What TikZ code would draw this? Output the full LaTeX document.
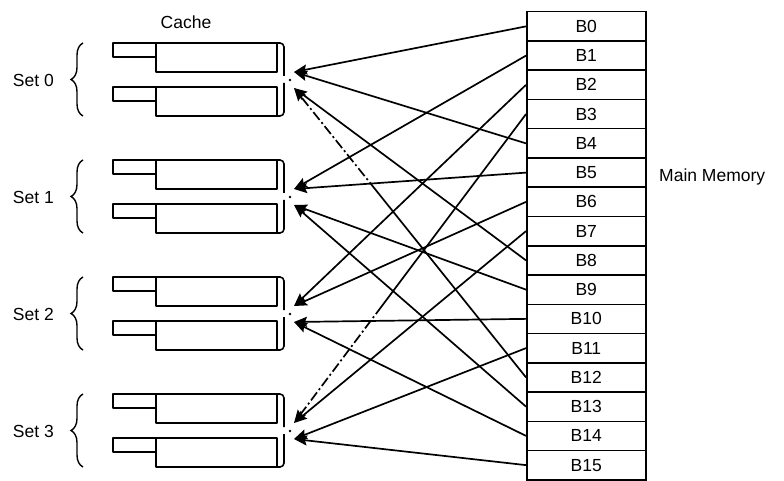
\documentclass[tikz,border=0pt]{standalone}
\usepackage{fontspec}
\setmainfont{Liberation Sans}
\usetikzlibrary{arrows.meta,decorations.pathreplacing}

\begin{document}
\begin{tikzpicture}[x=1pt,y=-1pt,
  lbl/.style={font=\fontsize{17.5}{20}\selectfont, inner sep=0pt},
  memcell/.style={draw, line width=1.5pt, minimum width=119pt, minimum height=29.25pt,
                  inner sep=0pt, anchor=north west, font=\fontsize{17.5}{20}\selectfont},
  cacheln/.style={line width=1.6pt, line join=round},
  link/.style={line width=1.7pt, -{Stealth[length=13pt,width=10pt,inset=2pt]}},
  % solid from the memory side, broken into dash-dots near the cache
  gaplink/.style={dash pattern=on 250pt off 3pt on 2pt off 3pt on 10pt off 3pt on 2pt off 3pt on 10pt
     off 3pt on 2pt off 3pt on 10pt off 3pt on 2pt off 3pt on 10pt off 3pt on 2pt off 3pt on 10pt
     off 3pt on 2pt off 3pt on 10pt off 3pt on 2pt off 3pt on 10pt off 3pt on 2pt off 3pt on 10pt
     off 3pt on 2pt off 3pt on 10pt off 3pt on 2pt off 3pt on 10pt off 3pt on 2pt off 3pt on 10pt},
  setbrace/.style={line width=1.4pt, decorate, decoration={brace, amplitude=12pt}},
]
\useasboundingbox (0,0) rectangle (784,481);

% main memory blocks
\foreach \i in {0,...,15}
  \node[memcell] (b\i) at (526, 11+29.25*\i) {B\i};
\node[lbl, anchor=west] (mm) at (659,177) {Main Memory};

% cache: four sets of two lines each
\node[lbl] (cache) at (186,22) {Cache};
\foreach \k in {0,...,3} {
  \pgfmathsetmacro\m{80+117*\k}
  % first line of the set
  \draw[cacheln] (113,\m-37) rectangle (156,\m-23);
  \draw[cacheln] (156,\m-37) rectangle (277,\m-8);
  \draw[cacheln, rounded corners=4pt] (270,\m-37) -- (284,\m-37) -- (284,\m-4);
  % second line of the set
  \draw[cacheln] (113,\m+7) rectangle (156,\m+21);
  \draw[cacheln] (156,\m+7) rectangle (277,\m+36);
  \draw[cacheln, rounded corners=4pt] (284,\m+3) -- (284,\m+36) -- (270,\m+36);
  % entry points
  \fill (290,\m) circle (1.4pt);
  \coordinate (s\k u) at (294,\m-8);
  \coordinate (s\k l) at (294,\m+8);
  % brace and label
  \draw[setbrace] (83,\m+36) -- (83,\m-37);
  \node[lbl, anchor=east] (set\k) at (54,\m) {Set \k};
}

% block-to-set mapping
\foreach \b/\t/\st in {0/s0u/solid, 4/s0u/solid, 8/s0l/solid, 12/s0l/gaplink,
                       1/s1u/solid, 5/s1u/solid, 9/s1l/solid, 13/s1l/solid,
                       2/s2u/solid, 6/s2u/solid, 10/s2l/solid, 14/s2l/solid,
                       3/s3u/gaplink, 7/s3u/solid, 11/s3l/solid, 15/s3l/solid}
  \draw[link, \st] (b\b.west) -- (\t);
\end{tikzpicture}
\end{document}
